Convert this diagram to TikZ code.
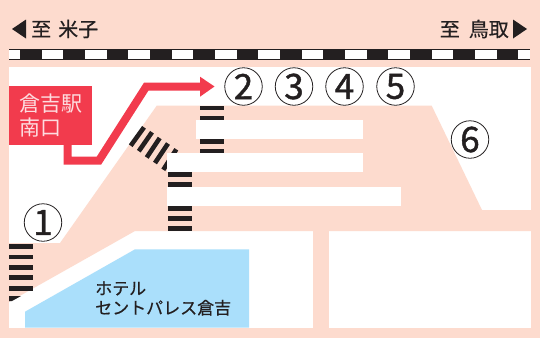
\documentclass[tikz,border=0pt]{standalone}
\usepackage{fontspec}
\setmainfont{Noto Sans CJK JP}
\newfontfamily\numfont[FakeBold=1.2]{Noto Sans CJK JP}
\newfontfamily\labelfont[FakeBold=0.5]{Noto Sans CJK JP}
\definecolor{peach}{HTML}{FDDBCE}
\definecolor{ink}{HTML}{231F20}
\definecolor{redc}{HTML}{F23B4D}
\definecolor{bluec}{HTML}{AADFFB}
\tikzset{
  stripe/.style={fill=ink,draw=none},
  numlabel/.style={circle,draw=ink,line width=0.8pt,minimum size=37.5pt,inner sep=0pt,font=\numfont\fontsize{35}{35}\selectfont,text=ink},
  dirlabel/.style={font=\labelfont\fontsize{20}{22}\selectfont,text=ink,inner sep=0pt},
  hotel/.style={font=\labelfont\fontsize{17}{19.5}\selectfont,text=ink,align=left,inner sep=0pt,anchor=west},
  station/.style={fill=redc,text=white!82!redc,minimum width=83pt,minimum height=59pt,inner sep=0pt,align=left,font=\fontsize{21}{24.5}\selectfont}
}
\begin{document}
\begin{tikzpicture}[x=1pt,y=-1pt]
\useasboundingbox (0,0) rectangle (540,338);
\fill[peach] (0,0) rectangle (540,338);
% rail
\fill[white] (9,49) rectangle (530,59);
\foreach \k in {0,...,11} \fill[ink] ({20+43.33*\k},49) rectangle ({41.6+43.33*\k},59);
\draw[ink,line width=0.8pt] (9,49) -- (530,49) (9,59) -- (530,59);
% ground
\fill[white] (9,67) rectangle (531,328);
\fill[peach] (156.7,105.7) -- (431.7,105.7) -- (482,210) -- (531,210) -- (531,231) -- (135,231) -- (9,302) -- (9,243) -- (60,243) -- cycle;
\fill[peach] (313,231) rectangle (329,328);
% stripes
\foreach \y in {105.5,116,139,149} \fill[stripe] (199.5,\y) rectangle ++(24,4.6);
\foreach \y in {171.7,182,206,216,226} \fill[stripe] (168.3,\y) rectangle ++(24,4.8);
\foreach \y in {244,254.5,265,275.3,285.7} \fill[stripe] (9,\y) rectangle ++(24,4.8);
\fill[stripe] (9,296) -- (21,296) -- (12,301) -- (9,301) -- cycle;
\foreach \xa/\ya/\xb/\yb in {144/127.3/130.7/145.7,152/132.2/138.8/151.2,159.7/138/146.7/157.5,168/143.5/155/163,176.3/149.3/163.3/169.8}
  \draw[ink,line width=4.6pt] (\xa,\ya) -- (\xb,\yb);
% bars
\fill[white] (196,120) rectangle (363,139);
\fill[white] (166.5,153) rectangle (363,172);
\fill[white] (166.5,187) rectangle (401,206);
% hotel
\fill[bluec] (25,311.7) -- (135,249.3) -- (249,249.3) -- (249,327.5) -- (25,327.5) -- cycle;
\node[hotel] (hotel) at (95,298.5) {ホテル\\セントパレス倉吉};
% red
\node[station] (gate) at (50.5,115.5) {倉吉駅\\南口};
\coordinate (arrowstart) at (67.5,145);
\coordinate (arrowend) at (214.5,86.5);
\draw[redc,line width=8pt,miter limit=10] (arrowstart) -- (67.5,160.5) -- (99,160.5) -- (146.3,86.5) -- (201,86.5);
\fill[redc] (200,76.7) -- (arrowend) -- (200,96.7) -- cycle;
% numbers
\node[numlabel] (n2) at (243.5,86.5) {2};
\node[numlabel] (n3) at (294,86.5) {3};
\node[numlabel] (n4) at (344.5,86.5) {4};
\node[numlabel] (n5) at (395.5,86.5) {5};
\node[numlabel] (n6) at (470,139.5) {6};
\node[numlabel] (n1) at (43,222.5) {1};
% directions
\fill[ink] (12,29) -- (26,19.5) -- (26,38.5) -- cycle;
\node[dirlabel,anchor=west] (yonago) at (31,29) {至\hspace{7pt}米子};
\fill[ink] (527,29) -- (513,19.5) -- (513,38.5) -- cycle;
\node[dirlabel,anchor=east] (tottori) at (509,29) {至\hspace{9pt}鳥取};
\end{tikzpicture}
\end{document}
